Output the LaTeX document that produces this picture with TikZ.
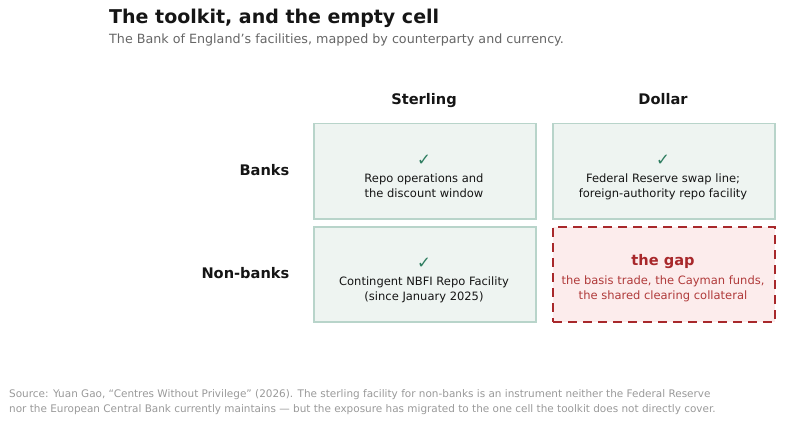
\documentclass[tikz,border=0pt]{standalone}
\usepackage{fontspec}
\setmainfont{DejaVu Sans}
\begin{document}
\begin{tikzpicture}[x=1pt,y=-1pt,
  cell/.style={draw=cellborder, fill=cellfill, line width=1.5pt, minimum width=222pt, minimum height=95pt, anchor=north west, inner sep=0pt},
  gapcell/.style={draw=gapred, fill=gapfill, line width=2.4pt, dash pattern=on 9pt off 6pt, minimum width=222pt, minimum height=95pt, anchor=north west, inner sep=0pt},
  celltext/.style={font=\fontsize{11.5}{15}\selectfont, text=textdark, anchor=base, inner sep=0pt},
  tick/.style={font=\fontsize{16.5}{16.5}\selectfont, text=tickgreen, anchor=base, inner sep=0pt},
  header/.style={font=\fontsize{14.6}{18}\selectfont\bfseries, text=textdark, anchor=base, inner sep=0pt},
  rowlabel/.style={font=\fontsize{14.6}{18}\selectfont\bfseries, text=textdark, anchor=base east, inner sep=0pt},
  foot/.style={font=\fontsize{10.45}{15}\selectfont, text=footgray, anchor=base west, inner sep=0pt}
]
\definecolor{cellborder}{HTML}{B8D4CA}
\definecolor{cellfill}{HTML}{EEF4F1}
\definecolor{gapred}{HTML}{A8282B}
\definecolor{gapfill}{HTML}{FCECEC}
\definecolor{gaptext}{HTML}{B03A3A}
\definecolor{textdark}{HTML}{151515}
\definecolor{tickgreen}{HTML}{2E7D60}
\definecolor{subgray}{HTML}{666666}
\definecolor{footgray}{HTML}{999999}
\useasboundingbox (0,0) rectangle (800,422);
\node[anchor=base west, inner sep=0pt, font=\fontsize{19}{22}\selectfont\bfseries, text=textdark] (title) at (109,24) {The toolkit, and the empty cell};
\node[anchor=base west, inner sep=0pt, font=\fontsize{12.7}{16}\selectfont, text=subgray] (subtitle) at (109,43.5) {The Bank of England’s facilities, mapped by counterparty and currency.};
\node[header] (hs) at (424,105) {Sterling};
\node[header] (hd) at (663,105) {Dollar};
\node[rowlabel] (rb) at (289.5,175.5) {Banks};
\node[rowlabel] (rn) at (289.5,278.5) {Non-banks};
\node[cell] (c11) at (313,123) {};
\node[cell] (c12) at (552,123) {};
\node[cell] (c21) at (313,226) {};
\node[gapcell] (c22) at (552,226) {};
\node[tick] (t11) at (424,165.5) {✓};
\node[celltext] (x11a) at (424,182.5) {Repo operations and};
\node[celltext] (x11b) at (424,197) {the discount window};
\node[tick] (t12) at (663,165.5) {✓};
\node[celltext] (x12a) at (663,182.5) {Federal Reserve swap line;};
\node[celltext] (x12b) at (663,197) {foreign-authority repo facility};
\node[tick] (t21) at (424,268.5) {✓};
\node[celltext] (x21a) at (424,285.5) {Contingent NBFI Repo Facility};
\node[celltext] (x21b) at (424,300) {(since January 2025)};
\node[anchor=base, inner sep=0pt, font=\fontsize{14.6}{18}\selectfont\bfseries, text=gapred] (g) at (663,265) {the gap};
\node[celltext, text=gaptext] (gxa) at (663,284.5) {the basis trade, the Cayman funds,};
\node[celltext, text=gaptext] (gxb) at (663,299.5) {the shared clearing collateral};
\node[foot] (fa) at (9,397.5) {Source: Yuan Gao, “Centres Without Privilege” (2026). The sterling facility for non-banks is an instrument neither the Federal Reserve};
\node[foot] (fb) at (9,412.5) {nor the European Central Bank currently maintains — but the exposure has migrated to the one cell the toolkit does not directly cover.};
\end{tikzpicture}
\end{document}
